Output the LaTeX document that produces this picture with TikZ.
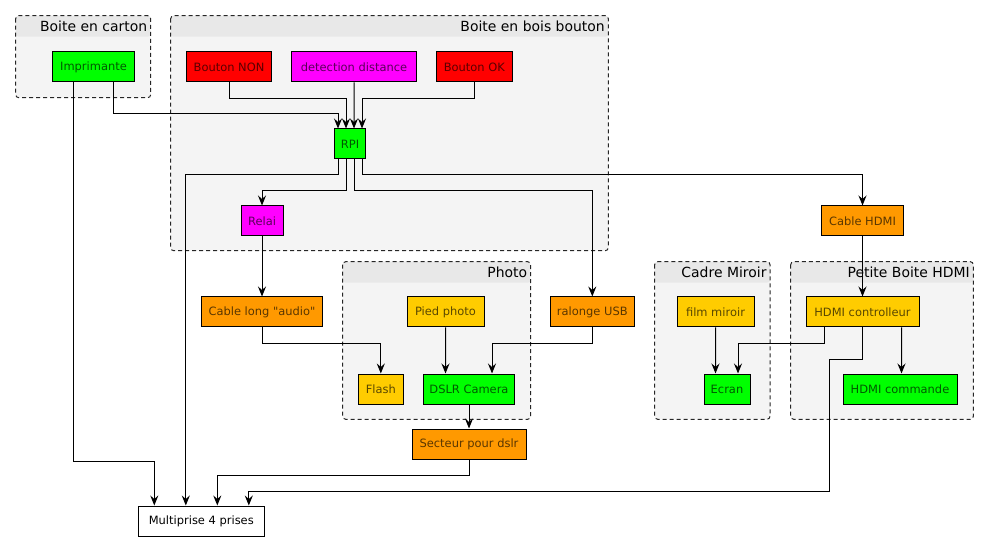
\documentclass[tikz,border=0pt]{standalone}
\usepackage{fontspec}
\setmainfont{DejaVu Sans}[Ligatures=TeXOff]
\usepackage{tikz}
\usepackage{xcolor}
\usetikzlibrary{arrows.meta}
\definecolor{cvert}{HTML}{00FF00}
\definecolor{crouge}{HTML}{FF0000}
\definecolor{crose}{HTML}{FF00FF}
\definecolor{corange}{HTML}{FF9900}
\definecolor{cjaune}{HTML}{FFCC00}
\definecolor{cgrp}{HTML}{F4F4F4}
\definecolor{cgrphead}{HTML}{E8E8E8}
\begin{document}
\begin{tikzpicture}[x=1bp,y=-1bp,line width=1bp,
every node/.style={inner sep=0pt,minimum height=30bp,font=\fontsize{11.5}{13}\selectfont},
composant/.style={rectangle,draw=black,fill=#1,text=#1!35!black},
conn/.style={-{Stealth[length=10bp,width=8bp,inset=3.5bp]}},
grp/.style={draw=black!85,dash pattern=on 4bp off 3bp,rounded corners=3bp,fill=cgrp,
path picture={\fill[cgrphead] (path picture bounding box.north west) rectangle ([yshift=-21bp]path picture bounding box.north east);}},
grptitle/.style={anchor=east,minimum height=0pt,font=\fontsize{14}{16}\selectfont}]
\useasboundingbox (0,0) rectangle (989,552);
\draw[grp] (15.7,15.7) rectangle (150.7,97.7);
\node[grptitle] (tcarton) at (147.7,26.5) {Boite en carton};
\draw[grp] (170.7,15.7) rectangle (608.3,250.7);
\node[grptitle] (tbois) at (605.3,26.5) {Boite en bois bouton};
\draw[grp] (342.7,261.7) rectangle (530.7,419.3);
\node[grptitle] (tphoto) at (527.7,272.5) {Photo};
\draw[grp] (654.7,261.7) rectangle (770,419.3);
\node[grptitle] (tmiroir) at (767,272.5) {Cadre Miroir};
\draw[grp] (790.7,261.7) rectangle (973.3,419.3);
\node[grptitle] (thdmi) at (970.3,272.5) {Petite Boite HDMI};
\node[composant=cvert,minimum width=82bp] (imprimante) at (93.5,67) {Imprimante};
\node[composant=crouge,minimum width=85bp] (boutonnon) at (229,67) {Bouton NON};
\node[composant=crose,minimum width=125bp] (detection) at (354,67) {detection distance};
\node[composant=crouge,minimum width=76bp] (boutonok) at (474.3,67) {Bouton OK};
\node[composant=cvert,minimum width=30.5bp] (rpi) at (350,144) {RPI};
\node[composant=crose,minimum width=42bp] (relai) at (262,221) {Relai};
\node[composant=corange,minimum width=121bp] (cableaudio) at (262,312) {Cable long "audio"};
\node[composant=cjaune,minimum width=77bp] (pied) at (445.5,312) {Pied photo};
\node[composant=corange,minimum width=84bp] (ralonge) at (592.3,312) {ralonge USB};
\node[composant=cjaune,minimum width=45bp] (flash) at (380.8,389) {Flash};
\node[composant=cvert,minimum width=91bp] (dslr) at (469,389) {DSLR Camera};
\node[composant=corange,minimum width=114bp] (secteur) at (469,444) {Secteur pour dslr};
\node[composant=corange,minimum width=82bp] (cablehdmi) at (862.5,221) {Cable HDMI};
\node[composant=cjaune,minimum width=77bp] (film) at (715.5,312) {film miroir};
\node[composant=cjaune,minimum width=113bp] (hdmictrl) at (862.5,312) {HDMI controlleur};
\node[composant=cvert,minimum width=46bp] (ecran) at (727,389) {Ecran};
\node[composant=cvert,minimum width=114bp] (hdmicmd) at (900,389) {HDMI commande};
\node[composant=white,text=black,minimum width=126bp] (multiprise) at (201.3,521) {Multiprise 4 prises};
\draw[conn] ([xshift=-20bp]imprimante.south) -- ++(0,379) -| ([xshift=-47bp]multiprise.north);
\draw[conn] ([xshift=20bp]imprimante.south) -- ++(0,31) -| ([xshift=-12bp]rpi.north);
\draw[conn] (boutonnon.south) -- ++(0,16) -| ([xshift=-4bp]rpi.north);
\draw[conn] (detection.south) -- ([xshift=4bp]rpi.north);
\draw[conn] (boutonok.south) -- ++(0,16) -| ([xshift=12bp]rpi.north);
\draw[conn] ([xshift=-12bp]rpi.south) -- ++(0,15) -| ([xshift=-15.5bp]multiprise.north);
\draw[conn] ([xshift=-4bp]rpi.south) -- ++(0,31) -| (relai.north);
\draw[conn] ([xshift=4bp]rpi.south) -- ++(0,31) -| (ralonge.north);
\draw[conn] ([xshift=12bp]rpi.south) -- ++(0,15) -| (cablehdmi.north);
\draw[conn] (relai) -- (cableaudio);
\draw[conn] (cableaudio.south) -- ++(0,16) -| (flash.north);
\draw[conn] (pied.south) -- ([xshift=-23.5bp]dslr.north);
\draw[conn] (ralonge.south) -- ++(0,16) -| ([xshift=23bp]dslr.north);
\draw[conn] (dslr) -- (secteur);
\draw[conn] (secteur.south) -- ++(0,16) -| ([xshift=16bp]multiprise.north);
\draw[conn] (cablehdmi) -- (hdmictrl);
\draw[conn] (hdmictrl.south) -- ++(0,32) -- ++(-33.5,0) -- ++(0,132) -| ([xshift=47.5bp]multiprise.north);
\draw[conn] ([xshift=-38.5bp]hdmictrl.south) -- ++(0,16) -| ([xshift=11bp]ecran.north);
\draw[conn] (film.south) -- ([xshift=-11.5bp]ecran.north);
\draw[conn] ([xshift=39bp]hdmictrl.south) -- ([xshift=1.5bp]hdmicmd.north);
\end{tikzpicture}
\end{document}
